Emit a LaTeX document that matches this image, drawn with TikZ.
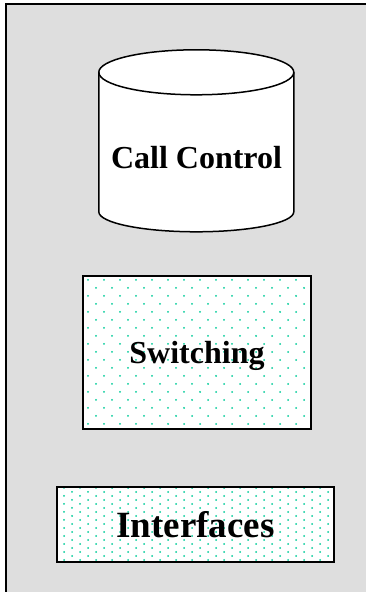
\documentclass[tikz,border=0pt]{standalone}
\usepackage{fontspec}
\setmainfont{Liberation Serif}
\usetikzlibrary{patterns}
\definecolor{panelgray}{RGB}{222,222,222}
\definecolor{dotgreen}{RGB}{0,204,153}
\pgfdeclarepatternformonly{sparsedots}{\pgfqpoint{-1pt}{-1pt}}{\pgfqpoint{17pt}{17pt}}{\pgfqpoint{16pt}{16pt}}{
	\pgfpathcircle{\pgfqpoint{0pt}{0pt}}{1pt}
	\pgfpathcircle{\pgfqpoint{8pt}{8pt}}{1pt}
	\pgfusepath{fill}
}
\pgfdeclarepatternformonly{densedots}{\pgfqpoint{-1pt}{-1pt}}{\pgfqpoint{17pt}{9pt}}{\pgfqpoint{16pt}{8pt}}{
	\pgfpathcircle{\pgfqpoint{0pt}{0pt}}{1pt}
	\pgfpathcircle{\pgfqpoint{8pt}{4pt}}{1pt}
	\pgfusepath{fill}
}

\begin{document}
\begin{tikzpicture}[x=1pt,y=1pt,
	block/.style={draw, line width=1.8pt, preaction={fill=white}, pattern color=dotgreen, text depth=0pt, font=\bfseries\fontsize{32}{36}\selectfont},
	label/.style={text depth=0pt, font=\bfseries\fontsize{32}{36}\selectfont}]
	\useasboundingbox (0,0) rectangle (366,592);
	\fill [panelgray] (6,0) rectangle (366,588);
	\draw [line width=2pt] (6,0) -- (6,588) -- (366,588);

	\node (callctrl) [minimum width=195pt, minimum height=182pt, inner sep=0pt] at (196.5,451) {};
	\draw [line width=1.5pt, fill=white] (callctrl.north west) ++(0,-22.5) -- ++(0,-139.5) arc (180:360:97.5 and 20) -- ++(0,139.5) arc (0:180:97.5 and 22.5) -- cycle;
	\draw [line width=1.5pt] (callctrl.north west) ++(0,-22.5) arc (180:360:97.5 and 22.5);
	\node (cclabel) [label] at (196.5,435) {Call Control};

	\node (switching) [block, pattern=sparsedots, minimum width=228pt, minimum height=153pt] at (197,239.5) {Switching};
	\node (interfaces) [block, pattern=densedots, minimum width=277pt, minimum height=75pt, font=\bfseries\fontsize{37}{40}\selectfont] at (195.5,67.5) {Interfaces};
\end{tikzpicture}
\end{document}
